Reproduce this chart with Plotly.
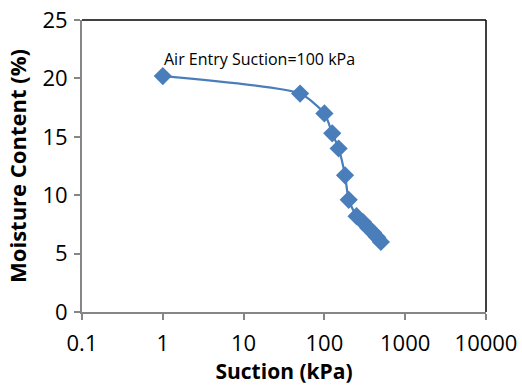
import plotly.graph_objects as go

suction = [1, 50, 100, 125, 150, 180, 200, 250, 300, 350, 400, 450, 500]
moisture = [20.2, 18.7, 17.0, 15.3, 14.0, 11.7, 9.6, 8.2, 7.7, 7.2, 6.8, 6.4, 6.0]
x_ticks = [0.1, 1, 10, 100, 1000, 10000]
x_tick_labels = ["0.1", "1", "10", "100", "1000", "10000"]
y_ticks = [0, 5, 10, 15, 20, 25]
annotation_text = "Air Entry Suction=100 kPa"

blue = "#4A7EBB"
gray = "#868686"
font_family = "Open Sans, DejaVu Sans, sans-serif"

fig = go.Figure()
fig.add_trace(go.Scatter(
    x=suction, y=moisture, mode="lines+markers",
    line=dict(color=blue, width=2.25, shape="spline", smoothing=0.6),
    marker=dict(symbol="diamond", size=14, color=blue, line=dict(width=0)),
    showlegend=False,
))

fig.add_annotation(x=0.44, xref="paper", xanchor="center", yref="y", y=21.7,
                   text=annotation_text, showarrow=False,
                   font=dict(family=font_family, size=16, color="#000000"))

fig.update_layout(
    width=522, height=392,
    margin=dict(l=82, r=36, t=20, b=80),
    paper_bgcolor="white", plot_bgcolor="white",
    font=dict(family=font_family, color="#000000"),
    xaxis=dict(
        type="log", range=[-1, 4], tickvals=x_ticks, ticktext=x_tick_labels,
        showline=True, linecolor=gray, linewidth=2, ticks="outside",
        ticklen=6, tickcolor=gray, tickwidth=1.5, showgrid=False, zeroline=False,
        automargin=False, ticklabelstandoff=5,
        tickfont=dict(size=22, family=font_family, color="#000000"),
        title=dict(text="<b>Suction (kPa)</b>", standoff=6,
                   font=dict(size=21, family=font_family, color="#000000")),
    ),
    yaxis=dict(
        range=[0, 25], tickvals=y_ticks,
        showline=True, linecolor=gray, linewidth=2, ticks="outside",
        ticklen=6, tickcolor=gray, tickwidth=1.5, showgrid=False, zeroline=False,
        automargin=False, ticklabelstandoff=2,
        tickfont=dict(size=22, family=font_family, color="#000000"),
        title=dict(text="<b>Moisture Content (%)</b>", standoff=10,
                   font=dict(size=22, family=font_family, color="#000000")),
    ),
)

# top and right black frame lines
fig.add_shape(type="line", xref="paper", yref="paper", x0=0, x1=1, y0=1, y1=1,
              line=dict(color="black", width=1.5))
fig.add_shape(type="line", xref="paper", yref="paper", x0=1, x1=1, y0=0, y1=1,
              line=dict(color="black", width=1.5))

fig.write_html("out.html")
